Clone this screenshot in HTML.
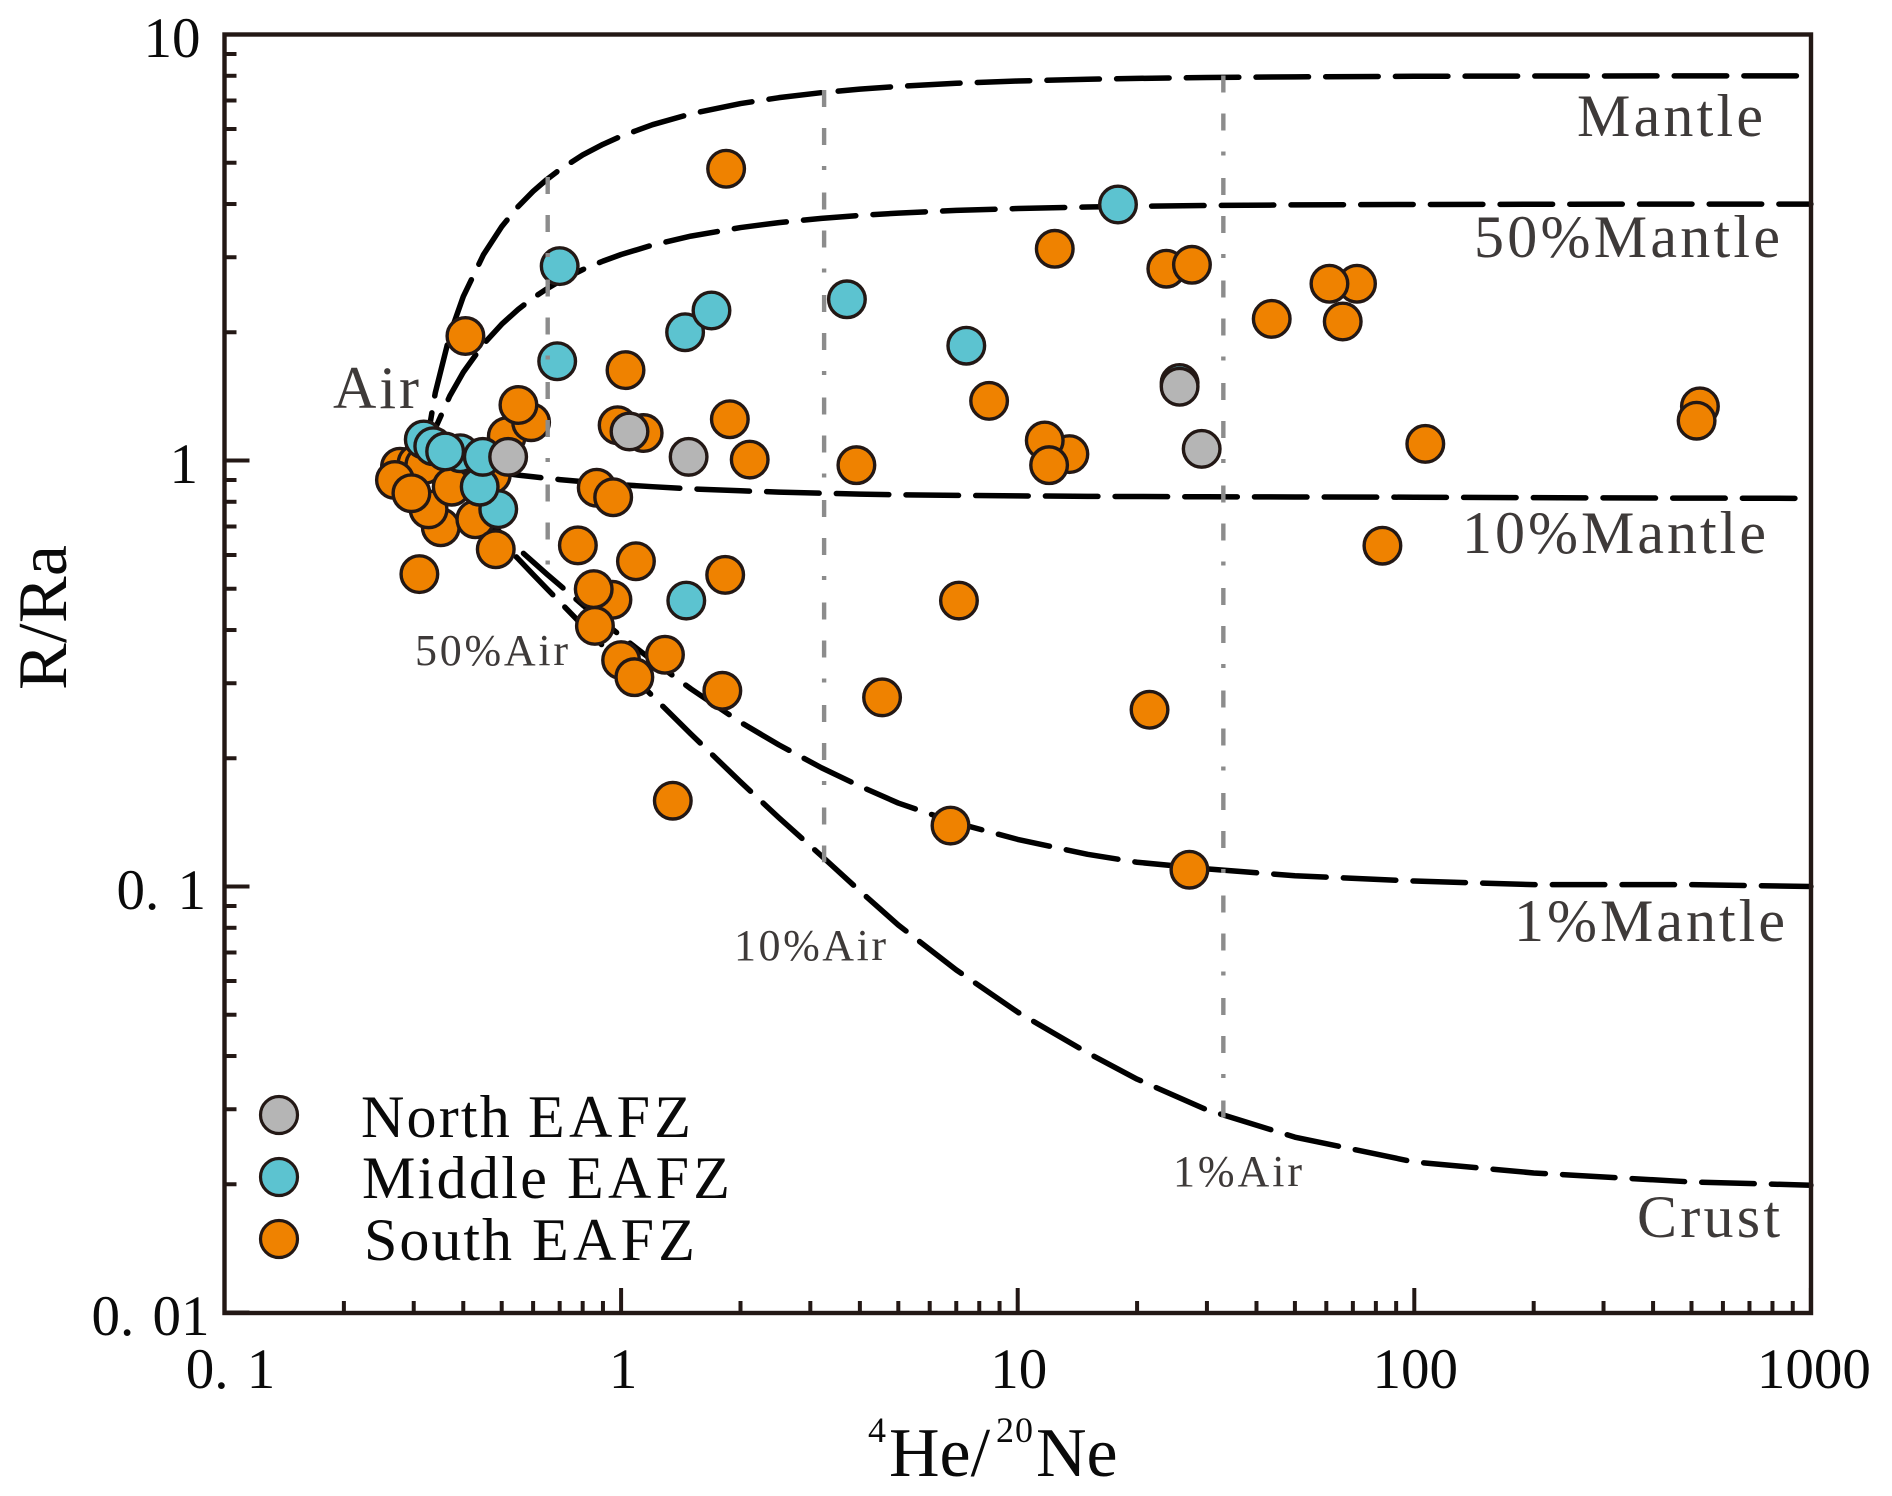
<!DOCTYPE html>
<html lang="en">
<head>
<meta charset="utf-8">
<title>R/Ra versus 4He/20Ne</title>
<style>
html,body{margin:0;padding:0;background:#fff;}
svg{display:block;}
text{font-family:"Liberation Serif",serif;}
.tick-label{font-size:57px;fill:#0a0a0a;word-spacing:4px;}
.axis-title{font-size:70px;fill:#0a0a0a;}
.curve-label{font-size:60px;fill:#3e3a39;}
.air-label{font-size:44px;fill:#3e3a39;}
.legend-label{font-size:60px;fill:#0a0a0a;}
</style>
</head>
<body>
<svg id="chart" xmlns="http://www.w3.org/2000/svg" width="1892" height="1496" viewBox="0 0 1892 1496">
  <rect x="0" y="0" width="1892" height="1496" fill="#ffffff"/>
  <g id="mix-curves"></g>
  <g id="south-points"></g>
  <g id="middle-points"></g>
  <g id="north-points"></g>
  <g id="air-lines"></g>
  <rect x="224.5" y="34.5" width="1586.5" height="1278.5" fill="none" stroke="#231815" stroke-width="4.4"/>
  <g id="ticks"></g>
  <g id="tick-labels"></g>

  <text class="axis-title" transform="translate(66,690) rotate(-90)" textLength="145">R/Ra</text>
  <g>
    <text class="axis-title" x="868" y="1442" style="font-size:36px">4</text>
    <text class="axis-title" x="889" y="1476">He/</text>
    <text class="axis-title" x="996" y="1442" style="font-size:36px" textLength="37">20</text>
    <text class="axis-title" x="1036" y="1476">Ne</text>
  </g>

  <text class="curve-label" x="1577" y="136" textLength="186">Mantle</text>
  <text class="curve-label" x="1474" y="257" textLength="306">50%Mantle</text>
  <text class="curve-label" x="1462" y="553" textLength="304">10%Mantle</text>
  <text class="curve-label" x="1514" y="941" textLength="271">1%Mantle</text>
  <text class="curve-label" x="1637" y="1237" textLength="143">Crust</text>
  <text class="curve-label" x="333" y="408" textLength="86">Air</text>
  <text class="air-label" x="415" y="665" textLength="153">50%Air</text>
  <text class="air-label" x="734" y="960" textLength="152">10%Air</text>
  <text class="air-label" x="1173" y="1186" textLength="129">1%Air</text>

  <g>
    <g>
      <circle cx="279" cy="1115" r="18.5" fill="#b5b5b5" stroke="#231815" stroke-width="3.2"/>
      <text class="legend-label" y="1137"><tspan x="361" letter-spacing="2.2">North</tspan><tspan x="528" letter-spacing="4.3">EAFZ</tspan></text>
    </g>
    <g>
      <circle cx="279" cy="1177" r="18.5" fill="#5cc3d0" stroke="#231815" stroke-width="3.2"/>
      <text class="legend-label" y="1198"><tspan x="362" letter-spacing="2.3">Middle</tspan><tspan x="567" letter-spacing="4.3">EAFZ</tspan></text>
    </g>
    <g>
      <circle cx="279" cy="1239" r="18.5" fill="#ef8200" stroke="#231815" stroke-width="3.2"/>
      <text class="legend-label" y="1260"><tspan x="364" letter-spacing="2">South</tspan><tspan x="532" letter-spacing="4.3">EAFZ</tspan></text>
    </g>
  </g>
</svg>
<script>
// Axis data
var xDecades = [0.1, 1, 10, 100, 1000];
var yDecades = [10, 1, 0.1, 0.01];
var minorFactors = [2, 3, 4, 5, 6, 7, 8, 9];
var xTickLabels = ['0. 1', '1', '10', '100', '1000'];
var yTickLabels = ['10', '1', '0. 1', '0. 01'];

// Scatter series, in drawing order
var southX = [0.277, 0.305, 0.319, 0.269, 0.351, 0.327, 0.296, 0.472, 0.374, 0.429, 0.31, 0.483,
  0.515, 0.593, 0.551, 0.405, 1.026, 0.98, 1.14, 1.88, 2.11, 3.92, 1.84, 12.4, 23.7, 27.5, 71.7, 61.1, 66, 43.7,
  8.47, 525, 515, 106.6, 13.5, 11.7, 12, 0.868, 0.955, 0.778, 1.09, 1.83, 83.1, 7.11, 0.951, 0.853, 0.859,
  1.29, 1.0, 1.08, 1.80, 4.55, 21.5, 1.35, 6.77, 27.1];
var southY = [0.967, 0.986, 0.976, 0.90, 0.697, 0.768, 0.838, 0.925, 0.868, 0.728, 0.541, 0.619,
  1.14, 1.23, 1.35, 1.96, 1.63, 1.21, 1.16, 1.25, 1.005, 0.975, 4.84, 3.14, 2.82, 2.88, 2.60, 2.60, 2.12, 2.15,
  1.38, 1.34, 1.24, 1.094, 1.035, 1.114, 0.975, 0.863, 0.82, 0.632, 0.58, 0.539, 0.631, 0.469, 0.471, 0.499, 0.409,
  0.35, 0.34, 0.31, 0.288, 0.278, 0.26, 0.159, 0.139, 0.1095];
var middleX = [17.9, 0.70, 3.71, 1.45, 1.69, 0.69, 7.42, 25.6, 1.46, 0.49, 0.393, 0.318, 0.336, 0.36, 0.44, 0.448];
var middleY = [3.99, 2.86, 2.39, 2.0, 2.25, 1.71, 1.86, 1.52, 0.469, 0.769, 1.04, 1.12, 1.08, 1.05, 0.868, 1.02];
var northX = [0.519, 1.05, 1.48, 25.6, 29.1];
var northY = [1.02, 1.17, 1.02, 1.49, 1.065];

// Mixing curves, sampled along He/Ne
var curveX = [0.32, 0.34, 0.37, 0.4, 0.45, 0.5, 0.55, 0.6, 0.65, 0.7, 0.8, 0.9, 1, 1.2, 1.5, 2, 2.5, 3.2, 4, 5, 7, 10, 15, 20, 30, 50, 100, 200, 500, 1000];
var mantleY = [1.033, 1.442, 1.974, 2.426, 3.045, 3.541, 3.946, 4.284, 4.57, 4.815, 5.214, 5.523, 5.77, 6.142, 6.514, 6.885, 7.108, 7.303, 7.443, 7.554, 7.682, 7.777, 7.851, 7.888, 7.926, 7.955, 7.978, 7.989, 7.996, 7.998];
var mantle50Y = [1.014, 1.19, 1.418, 1.611, 1.877, 2.089, 2.263, 2.408, 2.53, 2.635, 2.806, 2.938, 3.045, 3.204, 3.363, 3.522, 3.618, 3.702, 3.761, 3.809, 3.864, 3.904, 3.936, 3.952, 3.968, 3.981, 3.99, 3.995, 3.998, 3.999];
var mantle10Y = [0.999, 0.989, 0.975, 0.963, 0.947, 0.935, 0.924, 0.916, 0.908, 0.902, 0.892, 0.884, 0.877, 0.868, 0.858, 0.849, 0.843, 0.838, 0.834, 0.831, 0.828, 0.826, 0.824, 0.823, 0.822, 0.821, 0.82, 0.818, 0.816, 0.815];
var mantle1Y = [0.996, 0.943, 0.875, 0.817, 0.737, 0.673, 0.621, 0.578, 0.541, 0.51, 0.458, 0.419, 0.387, 0.339, 0.291, 0.243, 0.215, 0.19, 0.172, 0.157, 0.141, 0.129, 0.119, 0.114, 0.11, 0.106, 0.103, 0.101, 0.101, 0.1];
var crustY = [0.995, 0.938, 0.864, 0.8, 0.714, 0.644, 0.588, 0.54, 0.5, 0.466, 0.41, 0.367, 0.332, 0.28, 0.228, 0.176, 0.145, 0.118, 0.0976, 0.0812, 0.0637, 0.0507, 0.0407, 0.0353, 0.0299, 0.0258, 0.02256, 0.02126, 0.02025, 0.0199];

// Air-fraction reference lines
var airLineX = [0.653, 3.25, 33];
var airLineTop = [4.63, 7.41, 8.01];
var airLineBottom = [0.563, 0.114, 0.0284];

var SVG_NS = 'http://www.w3.org/2000/svg';

function xScale(v) {
  return 224.5 + 396.6 * (Math.log10(v) + 1);
}
function yScale(v) {
  return 34.5 + 426 * (1 - Math.log10(v));
}
function make(tag, parentId) {
  var el = document.createElementNS(SVG_NS, tag);
  document.getElementById(parentId).appendChild(el);
  return el;
}

function drawSeries(parentId, xs, ys, fill, seriesName) {
  for (var i = 0; i < xs.length; i++) {
    var c = make('circle', parentId);
    
    
    c.setAttribute('cx', xScale(xs[i]));
    c.setAttribute('cy', yScale(ys[i]));
    c.setAttribute('r', 18.3);
    c.setAttribute('fill', fill);
    c.setAttribute('stroke', '#231815');
    c.setAttribute('stroke-width', 3.4);
  }
}

function drawCurve(ys, curveName, endGap) {
  var d = '';
  for (var i = 0; i < curveX.length; i++) {
    d += (i ? 'L' : 'M') + xScale(curveX[i]).toFixed(2) + ' ' + yScale(ys[i]).toFixed(2);
  }
  var p = make('path', 'mix-curves');
  
  
  p.setAttribute('d', d);
  p.setAttribute('fill', 'none');
  p.setAttribute('stroke', '#000000');
  p.setAttribute('stroke-width', 5.5);
  p.setAttribute('stroke-linecap', 'round');
  p.setAttribute('stroke-linejoin', 'round');
  p.setAttribute('stroke-dasharray', '52.5 17.2');
  p.setAttribute('stroke-dashoffset', -(p.getTotalLength() - endGap));
}

function drawAirLines() {
  for (var i = 0; i < airLineX.length; i++) {
    var l = make('line', 'air-lines');
    
    
    l.setAttribute('x1', xScale(airLineX[i]));
    l.setAttribute('x2', xScale(airLineX[i]));
    l.setAttribute('y1', yScale(airLineTop[i]));
    l.setAttribute('y2', yScale(airLineBottom[i]));
    l.setAttribute('stroke', '#8c8c8c');
    l.setAttribute('stroke-width', 4.4);
    l.setAttribute('stroke-dasharray', '17 21 17 21 4 22.5');
  }
}

function drawXTick(value, len, width) {
  var l = make('line', 'ticks');
  
  
  l.setAttribute('x1', xScale(value));
  l.setAttribute('x2', xScale(value));
  l.setAttribute('y1', 1313);
  l.setAttribute('y2', 1313 - len);
  l.setAttribute('stroke', '#231815');
  l.setAttribute('stroke-width', width);
}
function drawYTick(value, len, width) {
  var l = make('line', 'ticks');
  
  
  l.setAttribute('x1', 224.5);
  l.setAttribute('x2', 224.5 + len);
  l.setAttribute('y1', yScale(value));
  l.setAttribute('y2', yScale(value));
  l.setAttribute('stroke', '#231815');
  l.setAttribute('stroke-width', width);
}
function drawTicks() {
  var i, j;
  for (i = 0; i < xDecades.length; i++) {
    drawXTick(xDecades[i], 25, 4);
    if (i < xDecades.length - 1) {
      for (j = 0; j < minorFactors.length; j++) {
        drawXTick(xDecades[i] * minorFactors[j], 12, 4);
      }
    }
  }
  for (i = 0; i < yDecades.length; i++) {
    drawYTick(yDecades[i], 25, 4);
    if (i > 0) {
      for (j = 0; j < minorFactors.length; j++) {
        drawYTick(yDecades[i] * minorFactors[j], 12, 4);
      }
    }
  }
}

function drawXLabel(value, label, shift) {
  var t = make('text', 'tick-labels');
  
  
  t.setAttribute('class', 'tick-label');
  t.setAttribute('x', xScale(value) + shift);
  t.setAttribute('y', 1388);
  t.setAttribute('text-anchor', 'middle');
  t.textContent = label;
}
function drawYLabel(value, label, rightEdge) {
  var t = make('text', 'tick-labels');
  
  
  t.setAttribute('class', 'tick-label');
  t.setAttribute('x', rightEdge);
  t.setAttribute('y', yScale(value) + 22.5);
  t.setAttribute('text-anchor', 'end');
  t.textContent = label;
}

drawCurve(mantleY, 'mantle-curve', 67);
drawCurve(mantle50Y, '50-percent-mantle-curve', 32);
drawCurve(mantle10Y, '10-percent-mantle-curve', 68.5);
drawCurve(mantle1Y, '1-percent-mantle-curve', 49.5);
drawCurve(crustY, 'crust-curve', 39.5);
drawSeries('south-points', southX, southY, '#ef8200', 'south-eafz');
drawSeries('middle-points', middleX, middleY, '#5cc3d0', 'middle-eafz');
drawSeries('north-points', northX, northY, '#b5b5b5', 'north-eafz');
drawAirLines();
drawTicks();
drawXLabel(xDecades[0], xTickLabels[0], 6);
drawXLabel(xDecades[1], xTickLabels[1], 2);
drawXLabel(xDecades[2], xTickLabels[2], 1);
drawXLabel(xDecades[3], xTickLabels[3], 1);
drawXLabel(xDecades[4], xTickLabels[4], 3);
drawYLabel(yDecades[0], yTickLabels[0], 200.5);
drawYLabel(yDecades[1], yTickLabels[1], 198);
drawYLabel(yDecades[2], yTickLabels[2], 206);
drawYLabel(yDecades[3], yTickLabels[3], 209.5);
</script>
</body>
</html>
